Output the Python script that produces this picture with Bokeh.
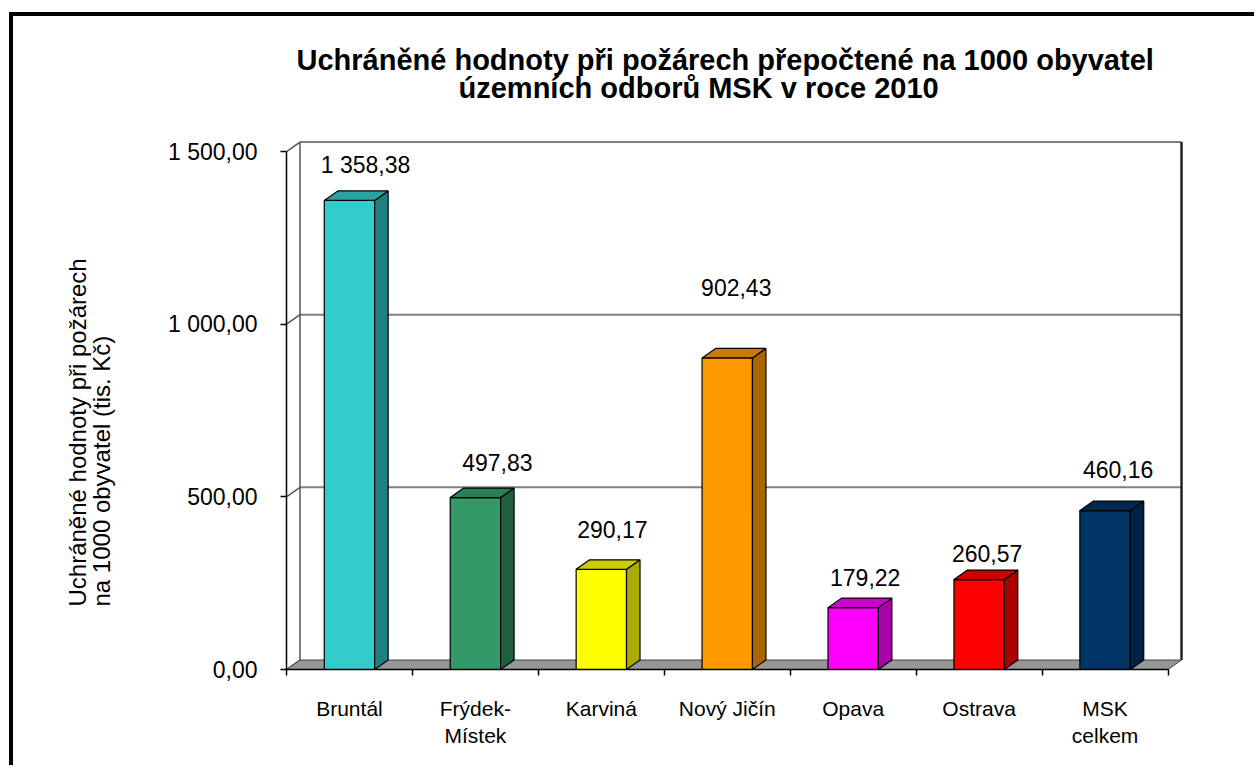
from bokeh.plotting import figure
from bokeh.models import FixedTicker, Range1d, ColumnDataSource, Title
from bokeh.core.properties import value
from bokeh.embed import file_html
from bokeh.resources import INLINE

# ---------------- data ----------------
categories = ["Bruntál", "Frýdek-\nMístek", "Karviná", "Nový Jičín", "Opava", "Ostrava", "MSK\ncelkem"]
values = [1358.38, 497.83, 290.17, 902.43, 179.22, 260.57, 460.16]
value_labels = ["1 358,38", "497,83", "290,17", "902,43", "179,22", "260,57", "460,16"]
front_colors = ["#33CCCC", "#339966", "#FFFF00", "#FF9900", "#FF00FF", "#FF0000", "#003366"]
side_colors = ["#1F8080", "#206040", "#AAAA00", "#AA6600", "#AA00AA", "#AA0000", "#002244"]
top_colors = ["#29A3A3", "#2B7F55", "#CCCC00", "#CC7A00", "#CC00CC", "#CC0000", "#00294F"]
y_ticks = [0, 500, 1000, 1500]
y_tick_labels = ["0,00", "500,00", "1 000,00", "1 500,00"]
title_lines = ["Uchráněné hodnoty při požárech přepočtené na 1000 obyvatel",
               "územních odborů MSK v roce 2010"]
y_label = "Uchráněné  hodnoty při požárech\nna 1000  obyvatel  (tis. Kč)"
# label nudges in screen pixels
label_dx = [16, 22, 11, 9, 12, 8, 13]
label_dy = [-35, -35, -40, -70, -30, -26, -41]

FONT = "Liberation Sans"
n = len(categories)
y_max = 1500

# ---------------- figure ----------------
W, H = 1245, 753
ML, MR, MT, MB = 273, 59, 104, 100
x_end = 7.25
y_end = 1590
p = figure(width=W, height=H, x_range=Range1d(0, x_end), y_range=Range1d(0, y_end),
           output_backend="svg", toolbar_location=None,
           min_border_left=ML, min_border_right=MR, min_border_top=MT, min_border_bottom=MB)
p.styles = {"border-left": "4px solid black", "border-top": "4px solid black",
            "margin-left": "9px", "margin-top": "12px"}
p.grid.visible = False
p.outline_line_color = None
p.background_fill_color = "white"
p.border_fill_color = "white"

frame_w = W - ML - MR
frame_h = H - MT - MB
px_x = x_end / frame_w     # data units per px (x)
px_y = y_end / frame_h     # data units per px (y)
DX = 13.5 * px_x
DY = 9.5 * px_y

# back wall
p.quad(left=[DX], right=[n + DX], bottom=[DY], top=[y_max + DY],
       fill_color="white", line_color=None)
grid_vals = y_ticks[1:]
p.segment(x0=[DX] * len(grid_vals), y0=[v + DY for v in grid_vals],
          x1=[n + DX] * len(grid_vals), y1=[v + DY for v in grid_vals],
          line_color="#808080", line_width=2)
p.segment(x0=[0] * len(y_ticks), y0=y_ticks, x1=[DX] * len(y_ticks), y1=[v + DY for v in y_ticks],
          line_color="#555555", line_width=1.5)
p.segment(x0=[DX], y0=[DY], x1=[DX], y1=[y_max + DY], line_color="#555555", line_width=1.5)
p.segment(x0=[n + DX], y0=[DY], x1=[n + DX], y1=[y_max + DY], line_color="#222222", line_width=2.5)

# floor
p.patch(x=[0, n, n + DX, DX], y=[0, 0, DY, DY], fill_color="#969696", line_color="#444444", line_width=1)

# bars
bw = 0.4
xs, ys, cols = [], [], []
for i, v in enumerate(values):
    c = i + 0.5
    l, r = c - bw / 2, c + bw / 2
    xs.append([l, r, r, l]); ys.append([0, 0, v, v]); cols.append(front_colors[i])
    xs.append([r, r + DX, r + DX, r]); ys.append([0, DY, v + DY, v]); cols.append(side_colors[i])
    xs.append([l, r, r + DX, l + DX]); ys.append([v, v, v + DY, v + DY]); cols.append(top_colors[i])
p.patches(xs=xs, ys=ys, fill_color=cols, line_color="black", line_width=1.2)

# value labels
centers = [i + 0.5 for i in range(n)]
src = ColumnDataSource(dict(x=centers, y=values, t=value_labels, dx=label_dx, dy=label_dy))
p.text(x="x", y="y", text="t", x_offset="dx", y_offset="dy", source=src,
       text_align="center", text_baseline="alphabetic",
       text_font=value(FONT), text_font_size="23px", text_color="black")

# axes
xa = p.xaxis[0]
xa.ticker = FixedTicker(ticks=centers, minor_ticks=list(range(n + 1)))
xa.major_label_overrides = {c: lab for c, lab in zip(centers, categories)}
xa.bounds = (0, n)
xa.major_tick_out = 0
xa.major_tick_in = 0
xa.minor_tick_out = 6
xa.minor_tick_in = 0
xa.axis_line_color = "black"
xa.axis_line_width = 1.5
xa.minor_tick_line_color = "black"
xa.minor_tick_line_width = 1.5
xa.major_label_standoff = 21
xa.major_label_text_font = FONT
xa.major_label_text_font_size = "21px"
xa.major_label_text_color = "black"

ya = p.yaxis[0]
ya.ticker = FixedTicker(ticks=y_ticks, minor_ticks=[])
ya.major_label_overrides = {t: lab for t, lab in zip(y_ticks, y_tick_labels)}
ya.bounds = (0, y_max)
ya.major_tick_out = 6
ya.major_tick_in = 0
ya.axis_line_color = "black"
ya.axis_line_width = 1.5
ya.major_tick_line_width = 1.5
ya.major_label_standoff = 23
ya.major_label_text_font = FONT
ya.major_label_text_font_size = "23px"
ya.major_label_text_color = "black"

# y axis title as a left-side title (two lines)
p.add_layout(Title(text=y_label, align="left", vertical_align="middle", offset=63, standoff=98,
                   text_font=FONT, text_font_size="24px", text_font_style="normal",
                   text_line_height=0.86, text_color="black"), "left")

# title (two lines)
p.title.text = title_lines[0]
p.title.align = "left"
p.title.offset = 10
p.title.standoff = -46
p.title.text_font = FONT
p.title.text_font_size = "29px"
p.title.text_font_style = "bold"
p.title.text_color = "black"
p.add_layout(Title(text=title_lines[1], align="left", offset=172, standoff=34,
                   text_font=FONT, text_font_size="29px", text_font_style="bold",
                   text_color="black"), "above")

open("out.html", "w").write(file_html(p, INLINE))
